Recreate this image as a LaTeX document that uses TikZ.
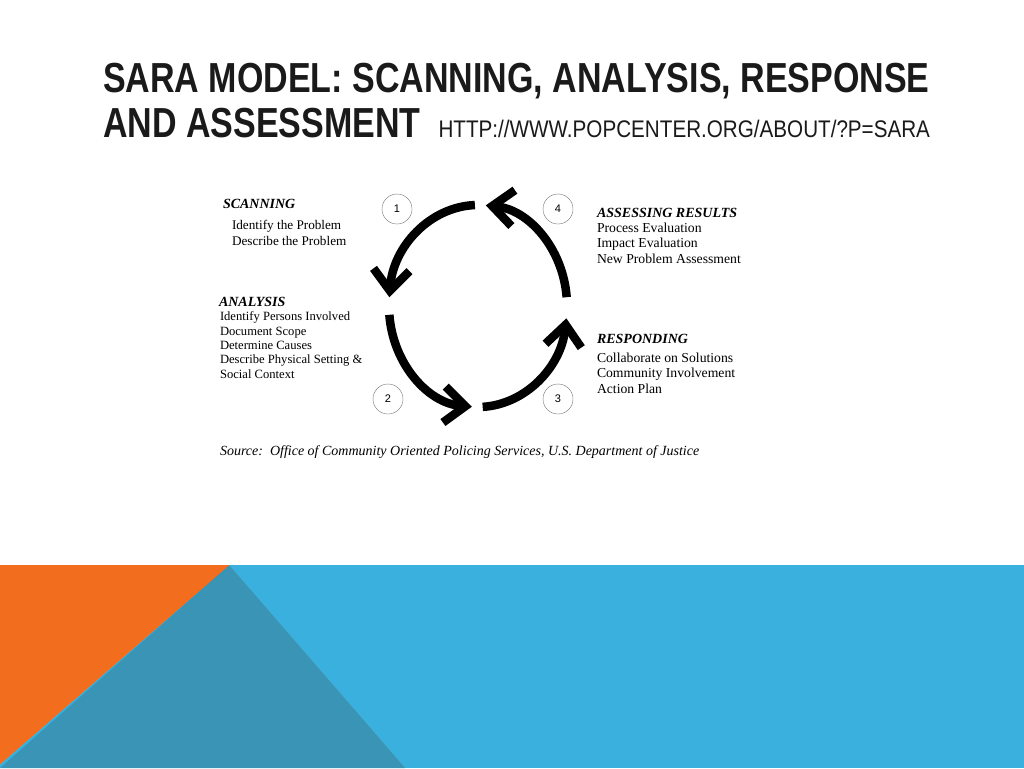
\documentclass[tikz,border=0pt]{standalone}
\usepackage{fontspec}
\setmainfont{Liberation Serif}
\newfontfamily\titlefont[FakeStretch=0.81]{Liberation Sans}
\newfontfamily\urlfont[FakeStretch=0.86]{Liberation Sans}
\newfontfamily\numfont{Liberation Sans}
\usetikzlibrary{arrows.meta,positioning}
\definecolor{slideorange}{RGB}{242,110,30}
\definecolor{slideblue}{RGB}{57,176,222}
\definecolor{slideteal}{RGB}{57,148,181}
\definecolor{titlegray}{RGB}{26,26,26}

\begin{document}
\begin{tikzpicture}[x=1pt,y=-1pt,inner sep=0pt,outer sep=0pt]

  \tikzstyle{titlenode}=[anchor=base west,text=titlegray,font=\titlefont\bfseries\fontsize{42}{44}\selectfont]
  \tikzstyle{headnode}=[anchor=base west,font=\fontsize{14}{16}\selectfont\bfseries\itshape]
  \tikzstyle{listnode}=[anchor=base west,align=left,font=\fontsize{12.6}{14.3}\selectfont]
  \tikzstyle{widelistnode}=[anchor=base west,align=left,font=\fontsize{13.7}{15.5}\selectfont]
  \tikzstyle{stepnode}=[draw=black!55,thin,circle,minimum size=30pt,font=\numfont\fontsize{11}{13}\selectfont]
  \tikzstyle{cyclearc}=[line width=8.5pt,-{Straight Barb[length=21pt,width=36pt]}]

  \useasboundingbox (0,0) rectangle (1024,768);

  \fill[slideblue] (0,565) rectangle (1024,768);
  \fill[slideteal] (229,565) -- (405,768) -- (0,768) -- cycle;
  \fill[slideorange] (0,565) -- (229,565) -- (0,764) -- cycle;

  \node[titlenode] (title1) at (103,92) {SARA MODEL: SCANNING, ANALYSIS, RESPONSE};
  \node[titlenode] (title2) at (103,137) {AND ASSESSMENT};
  \node[anchor=base west,text=titlegray,font=\urlfont\fontsize{24}{26}\selectfont] (url)
       at ([xshift=18pt]title2.base east) {HTTP://WWW.POPCENTER.ORG/ABOUT/?P=SARA};

  \coordinate (ctr) at (478,306);
  \foreach \s/\e [count=\i] in {92/175,185/266,273/353,5/85}
    \draw[cyclearc] ([shift={(\s:89pt and 101pt)}]ctr) coordinate (arc\i)
      arc[start angle=\s,end angle=\e,x radius=89pt,y radius=101pt];

  \node[stepnode] (s1) at (397,209) {1};
  \node[stepnode] (s2) at (388,399) {2};
  \node[stepnode] (s3) at (558,399) {3};
  \node[stepnode] (s4) at (558,209) {4};

  % lists sit on the baseline of their last line
  \node[headnode] (scan) at (223,208) {SCANNING};
  \node[listnode,font=\fontsize{13.2}{14.3}\selectfont] (scanlist) at (232,245) {Identify the Problem\\[1.7pt]Describe the Problem};

  \node[headnode] (ana) at (219,306) {ANALYSIS};
  \node[listnode] (analist) at (220,378) {Identify Persons Involved\\Document Scope\\Determine Causes\\
    Describe Physical Setting \&\\Social Context};

  \node[headnode] (assess) at (597,217) {ASSESSING RESULTS};
  \node[widelistnode] (assesslist) at (597,263) {Process Evaluation\\Impact Evaluation\\New Problem Assessment};

  \node[headnode] (resp) at (597,343) {RESPONDING};
  \node[widelistnode] (resplist) at (597,393) {Collaborate on Solutions\\Community Involvement\\Action Plan};

  \node[anchor=base west,font=\fontsize{14}{16}\selectfont\itshape] (source) at (220,455)
       {Source:\ \ Office of Community Oriented Policing Services, U.S. Department of Justice};

\end{tikzpicture}
\end{document}
